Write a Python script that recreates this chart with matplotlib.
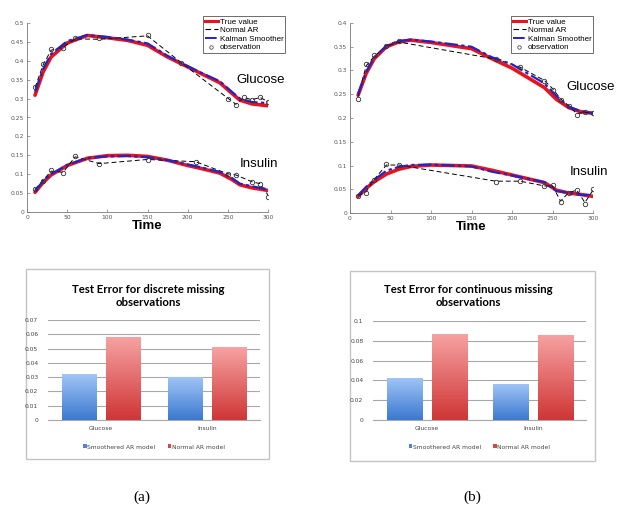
import numpy as np
import matplotlib
matplotlib.use("Agg")
import matplotlib.pyplot as plt
from matplotlib.lines import Line2D
from matplotlib.patches import Rectangle, Patch

W, H = 624, 513
fig = plt.figure(figsize=(W / 100, H / 100), dpi=100)

def fr(left, top, right, bottom):
    return [left / W, 1 - bottom / H, (right - left) / W, (bottom - top) / H]

# ---------------- data: (a) discrete missing ----------------
a_true_t = [10, 20, 30, 50, 75, 100, 125, 150, 175, 200, 215, 240, 255, 265, 280, 300]
a_glu_true = [0.309, 0.370, 0.410, 0.447, 0.467, 0.461, 0.454, 0.441, 0.410, 0.384, 0.368, 0.342, 0.314, 0.296, 0.286, 0.281]
a_glu_kal = [0.318, 0.378, 0.418, 0.452, 0.468, 0.463, 0.456, 0.446, 0.413, 0.386, 0.370, 0.346, 0.318, 0.300, 0.291, 0.288]
a_ins_true = [0.052, 0.078, 0.098, 0.123, 0.142, 0.149, 0.150, 0.147, 0.137, 0.123, 0.116, 0.103, 0.086, 0.072, 0.064, 0.057]
a_ins_kal = [0.056, 0.081, 0.100, 0.124, 0.143, 0.147, 0.148, 0.145, 0.137, 0.126, 0.119, 0.106, 0.090, 0.075, 0.068, 0.060]

a_glu_obs_t = [10, 20, 30, 45, 60, 90, 150, 192, 250, 260, 270, 280, 290, 300]
a_glu_obs = [0.331, 0.391, 0.430, 0.434, 0.459, 0.459, 0.467, 0.393, 0.300, 0.283, 0.305, 0.296, 0.305, 0.292]
a_glu_ar = [0.329, 0.389, 0.428, 0.436, 0.458, 0.457, 0.466, 0.395, 0.301, 0.285, 0.303, 0.297, 0.303, 0.292]

a_ins_obs_t = [10, 20, 30, 45, 60, 90, 150, 210, 250, 260, 280, 290, 300]
a_ins_obs = [0.061, 0.083, 0.110, 0.103, 0.148, 0.127, 0.138, 0.133, 0.100, 0.098, 0.079, 0.075, 0.040]
a_ins_ar = [0.060, 0.084, 0.108, 0.105, 0.146, 0.128, 0.139, 0.133, 0.101, 0.098, 0.080, 0.075, 0.045]

# ---------------- data: (b) continuous missing ----------------
b_true_t = [10, 20, 30, 45, 60, 75, 100, 150, 175, 200, 240, 255, 270, 285, 300]
b_glu_true = [0.248, 0.294, 0.325, 0.350, 0.360, 0.364, 0.359, 0.346, 0.325, 0.305, 0.264, 0.239, 0.222, 0.213, 0.210]
b_glu_kal = [0.250, 0.297, 0.328, 0.352, 0.362, 0.365, 0.361, 0.350, 0.328, 0.313, 0.273, 0.246, 0.224, 0.214, 0.210]
b_ins_true = [0.035, 0.052, 0.066, 0.082, 0.092, 0.098, 0.101, 0.099, 0.090, 0.080, 0.064, 0.048, 0.042, 0.039, 0.035]
b_ins_kal = [0.037, 0.055, 0.070, 0.089, 0.097, 0.101, 0.102, 0.098, 0.087, 0.079, 0.065, 0.046, 0.043, 0.038, 0.038]

b_glu_obs_t = [10, 20, 30, 45, 60, 180, 210, 240, 250, 260, 270, 280, 290, 300]
b_glu_obs = [0.241, 0.313, 0.332, 0.352, 0.362, 0.324, 0.308, 0.278, 0.260, 0.238, 0.225, 0.206, 0.213, 0.210]
b_glu_ar = [0.245, 0.310, 0.330, 0.351, 0.360, 0.324, 0.307, 0.279, 0.262, 0.240, 0.226, 0.209, 0.212, 0.210]

b_ins_obs_t = [10, 20, 30, 45, 60, 180, 210, 240, 250, 260, 270, 280, 290, 300]
b_ins_obs = [0.035, 0.043, 0.070, 0.103, 0.102, 0.066, 0.067, 0.056, 0.058, 0.023, 0.043, 0.049, 0.019, 0.050]
b_ins_ar = [0.036, 0.045, 0.071, 0.101, 0.101, 0.067, 0.067, 0.057, 0.057, 0.025, 0.043, 0.048, 0.022, 0.048]

# ---------------- bar data ----------------
bar_categories = ["Glucose", "Insulin"]
bar_series = ["Smoothered AR model", "Normal AR model"]
a_smooth = [0.0322, 0.0303]
a_normal = [0.0583, 0.0509]
b_smooth = [0.0427, 0.0367]
b_normal = [0.0872, 0.0859]

RED = "#e8141c"
BLUE = "#2323c8"

def line_panel(rect, ylim, yticks, ylabels, t_true, g_true, g_kal, i_true, i_kal,
               go_t, go, gar, io_t, io, iar, glu_xy, ins_xy, leg_anchor):
    ax = fig.add_axes(fr(*rect))
    ax.plot(t_true, g_true, color=RED, lw=2.6, solid_capstyle="round")
    ax.plot(t_true, i_true, color=RED, lw=2.6, solid_capstyle="round")
    ax.plot(go_t, gar, color="black", lw=0.7, ls=(0, (5, 3)))
    ax.plot(io_t, iar, color="black", lw=0.7, ls=(0, (5, 3)))
    ax.plot(t_true, g_kal, color=BLUE, lw=1.6, ls=(0, (6, 1.5, 1.5, 1.5)))
    ax.plot(t_true, i_kal, color=BLUE, lw=1.6, ls=(0, (6, 1.5, 1.5, 1.5)))
    ax.plot(go_t, go, ls="none", marker="o", ms=3.2, mfc="none", mec="#333333", mew=0.6)
    ax.plot(io_t, io, ls="none", marker="o", ms=3.2, mfc="none", mec="#333333", mew=0.6)
    ax.set_xlim(0, 300)
    ax.set_ylim(*ylim)
    ax.set_xticks([0, 50, 100, 150, 200, 250, 300])
    ax.set_yticks(yticks)
    ax.set_yticklabels(ylabels)
    for s in ["top", "right"]:
        ax.spines[s].set_visible(False)
    for s in ["left", "bottom"]:
        ax.spines[s].set_color("#777777")
        ax.spines[s].set_linewidth(0.6)
    ax.tick_params(direction="in", length=2, width=0.5, colors="#777777",
                   labelsize=4.3, labelcolor="#555555", pad=2)
    ax.set_xlabel("Time", fontsize=9.5, fontweight="bold", labelpad=0,
                  family="Liberation Sans")
    ax.patch.set_alpha(0)
    fig.text(glu_xy[0] / W, 1 - glu_xy[1] / H, "Glucose", fontsize=9.5,
             family="Liberation Sans", ha="left", va="center")
    fig.text(ins_xy[0] / W, 1 - ins_xy[1] / H, "Insulin", fontsize=9.5,
             family="Liberation Sans", ha="left", va="center")
    handles = [
        Line2D([], [], color=RED, lw=2.2),
        Line2D([], [], color="black", lw=0.8, ls=(0, (5, 3))),
        Line2D([], [], color=BLUE, lw=1.4, ls=(0, (6, 1.5, 1.5, 1.5))),
        Line2D([], [], ls="none", marker="o", ms=2.5, mfc="none", mec="#333333", mew=0.5),
    ]
    leg = fig.legend(handles, ["True value", "Normal AR", "Kalman Smoother", "observation"],
                     loc="upper left", bbox_to_anchor=(leg_anchor[0] / W, 1 - leg_anchor[1] / H),
                     handlelength=1.6, handletextpad=0.2, borderpad=0.25,
                     labelspacing=0.12, borderaxespad=0, fancybox=False,
                     edgecolor="#555555", framealpha=1,
                     prop={"family": "Liberation Sans", "size": 5.8})
    leg.get_frame().set_linewidth(0.6)
    return ax

line_panel((27, 23, 268, 212), (0, 0.5), np.arange(0, 0.51, 0.05),
           ["0", "0.05", "0.1", "0.15", "0.2", "0.25", "0.3", "0.35", "0.4", "0.45", "0.5"],
           a_true_t, a_glu_true, a_glu_kal, a_ins_true, a_ins_kal,
           a_glu_obs_t, a_glu_obs, a_glu_ar, a_ins_obs_t, a_ins_obs, a_ins_ar,
           (236, 80), (240, 164), (203, 16))

line_panel((350, 23, 593, 213), (0, 0.4), np.arange(0, 0.41, 0.05),
           ["0", "0.05", "0.1", "0.15", "0.2", "0.25", "0.3", "0.35", "0.4"],
           b_true_t, b_glu_true, b_glu_kal, b_ins_true, b_ins_kal,
           b_glu_obs_t, b_glu_obs, b_glu_ar, b_ins_obs_t, b_ins_obs, b_ins_ar,
           (566, 87), (570, 172), (511, 16))

# ---------------- bar panels ----------------
def gradient_bars(ax, xs, vals, width, top_col, bot_col):
    bars = ax.bar(xs, vals, width=width, color="none", edgecolor="none", zorder=2)
    grad = np.linspace(0, 1, 256).reshape(-1, 1)
    cmap = matplotlib.colors.LinearSegmentedColormap.from_list("g", [bot_col, top_col])
    for b in bars:
        x0, w, h = b.get_x(), b.get_width(), b.get_height()
        im = ax.imshow(grad, extent=(x0, x0 + w, 0, h), origin="lower", cmap=cmap,
                       aspect="auto", zorder=2)
        im.set_clip_path(b)
    return bars

def bar_panel(frame, rect, smooth, normal, ymax, yticks, ylabels, title, title_xy, leg_y):
    l, t, r, b = frame
    fig.patches.append(Rectangle((l / W, 1 - b / H), (r - l) / W, (b - t) / H,
                                 transform=fig.transFigure, fill=False,
                                 edgecolor="#c4c4c4", lw=1.0, zorder=-1))
    ax = fig.add_axes(fr(*rect))
    ax.patch.set_alpha(0)
    x = np.arange(len(bar_categories))
    gradient_bars(ax, x - 0.205, smooth, 0.33, "#a2c6f7", "#3b78cf")
    gradient_bars(ax, x + 0.215, normal, 0.33, "#f7a3a3", "#cf3535")
    ax.set_xlim(-0.5, 1.5)
    ax.set_ylim(0, ymax)
    ax.set_yticks(yticks)
    ax.set_yticklabels(ylabels)
    ax.set_xticks(x)
    ax.set_xticklabels(bar_categories)
    ax.grid(axis="y", color="#a8a8a8", lw=0.8, zorder=0)
    ax.set_axisbelow(True)
    for s in ["top", "right", "left"]:
        ax.spines[s].set_visible(False)
    ax.spines["bottom"].set_color("#a8a8a8")
    ax.spines["bottom"].set_linewidth(0.8)
    ax.tick_params(length=0, labelsize=4.3, labelcolor="#444444", pad=7)
    ax.tick_params(axis="x", pad=4)
    fig.text(title_xy[0] / W, 1 - title_xy[1] / H, title, ha="center", va="center",
             fontsize=8.2, fontweight="bold", family="Lato", linespacing=1.3)
    handles = [Patch(facecolor="#4a86d8"), Patch(facecolor="#d84545")]
    leg = fig.legend(handles, bar_series, loc="center",
                     bbox_to_anchor=(((rect[0] + rect[2]) / 2) / W, 1 - leg_y / H),
                     ncol=2, frameon=False, handlelength=0.6, handleheight=0.6,
                     handletextpad=0.1, columnspacing=2.0,
                     prop={"family": "DejaVu Sans", "size": 4.3})
    for txt in leg.get_texts():
        txt.set_color("#444444")
    return ax

bar_panel((26, 269, 269, 459), (48, 320, 260, 420), a_smooth, a_normal, 0.07,
          np.arange(0, 0.071, 0.01), ["0", "0.01", "0.02", "0.03", "0.04", "0.05", "0.06", "0.07"],
          "Test Error for discrete missing\nobservations", (148, 296), 447)

bar_panel((350, 271, 595, 461), (373, 321, 586, 420), b_smooth, b_normal, 0.1,
          np.arange(0, 0.101, 0.02), ["0", "0.02", "0.04", "0.06", "0.08", "0.1"],
          "Test Error for continuous missing\nobservations", (468, 296), 447)

fig.text(142 / W, 1 - 497 / H, "(a)", ha="center", va="center", fontsize=11,
         family="Liberation Serif")
fig.text(472 / W, 1 - 497 / H, "(b)", ha="center", va="center", fontsize=11,
         family="Liberation Serif")

fig.savefig("out.png", dpi=100, facecolor="white")
